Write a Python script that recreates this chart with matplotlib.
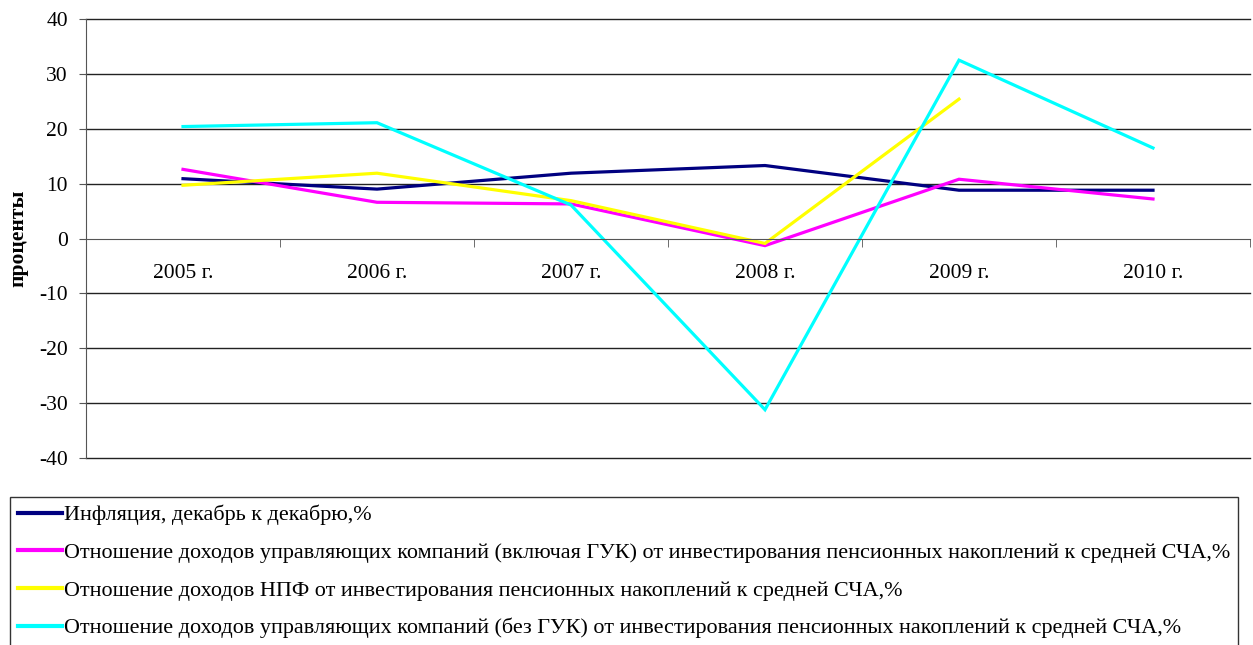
import matplotlib.pyplot as plt

plt.rcParams['font.family'] = ['Liberation Serif', 'DejaVu Serif']
plt.rcParams['axes.unicode_minus'] = False

years = ['2005 г.', '2006 г.', '2007 г.', '2008 г.', '2009 г.', '2010 г.']
inflation = [10.9, 9.0, 11.9, 13.3, 8.8, 8.8]
uk_with_guk = [12.6, 6.6, 6.3, -1.3, 10.8, 7.2]
npf = [9.7, 11.9, 6.9, -0.9, 25.4]
uk_without_guk = [20.4, 21.1, 6.1, -31.2, 32.5, 16.5]

labels = ['Инфляция, декабрь к декабрю,%',
          'Отношение доходов управляющих компаний (включая ГУК) от инвестирования пенсионных накоплений к средней СЧА,%',
          'Отношение доходов НПФ от инвестирования пенсионных накоплений к средней СЧА,%',
          'Отношение доходов управляющих компаний (без ГУК) от инвестирования пенсионных накоплений к средней СЧА,%']
colors = ['#000080', '#FF00FF', '#FFFF00', '#00FFFF']
fs = 15.5

fig = plt.figure(figsize=(12.53, 6.45), dpi=100)
ax = fig.add_axes([86 / 1253, 1 - 458 / 645, (1250 - 86) / 1253, (458 - 19) / 645])

x = list(range(len(years)))
series = [inflation, uk_with_guk, npf, uk_without_guk]
for vals, lab, col in zip(series, labels, colors):
    ax.plot(x[:len(vals)], vals, color=col, lw=2.3, label=lab, solid_joinstyle='miter')

ax.set_xlim(-0.5, 5.5)
ax.set_ylim(-40, 40)
ax.set_yticks(range(-40, 41, 10))
for yv in range(-40, 41, 10):
    if yv != 0:
        ax.axhline(yv, color='#222222', lw=1, zorder=0, clip_on=False)

for s in ['top', 'right']:
    ax.spines[s].set_visible(False)
ax.spines['bottom'].set_position(('data', 0))
ax.spines['bottom'].set_color('#555555')
ax.spines['left'].set_color('#555555')

ax.set_xticks(x)
ax.set_xticklabels(years, fontsize=fs)
ax.set_xticks([i + 0.5 for i in range(-1, 6)], minor=True)
ax.tick_params(axis='x', which='major', length=0, pad=18)
ax.tick_params(axis='x', which='minor', length=6, direction='out', color='#555555')
ax.tick_params(axis='y', length=5, labelsize=fs, color='#555555', pad=8)

ax.set_ylabel('проценты', fontsize=fs, fontweight='bold', labelpad=8)

leg = fig.legend(loc='upper left', bbox_to_anchor=(10 / 1253, 1 - 497 / 645),
                 fontsize=15.9, frameon=True, fancybox=False, edgecolor='black',
                 handlelength=2.0, handletextpad=0.08, labelspacing=0.78,
                 borderaxespad=0, borderpad=0.35)
leg.get_frame().set_linewidth(1)
for line in leg.get_lines():
    line.set_linewidth(3)

fig.savefig('out.png', dpi=100)
